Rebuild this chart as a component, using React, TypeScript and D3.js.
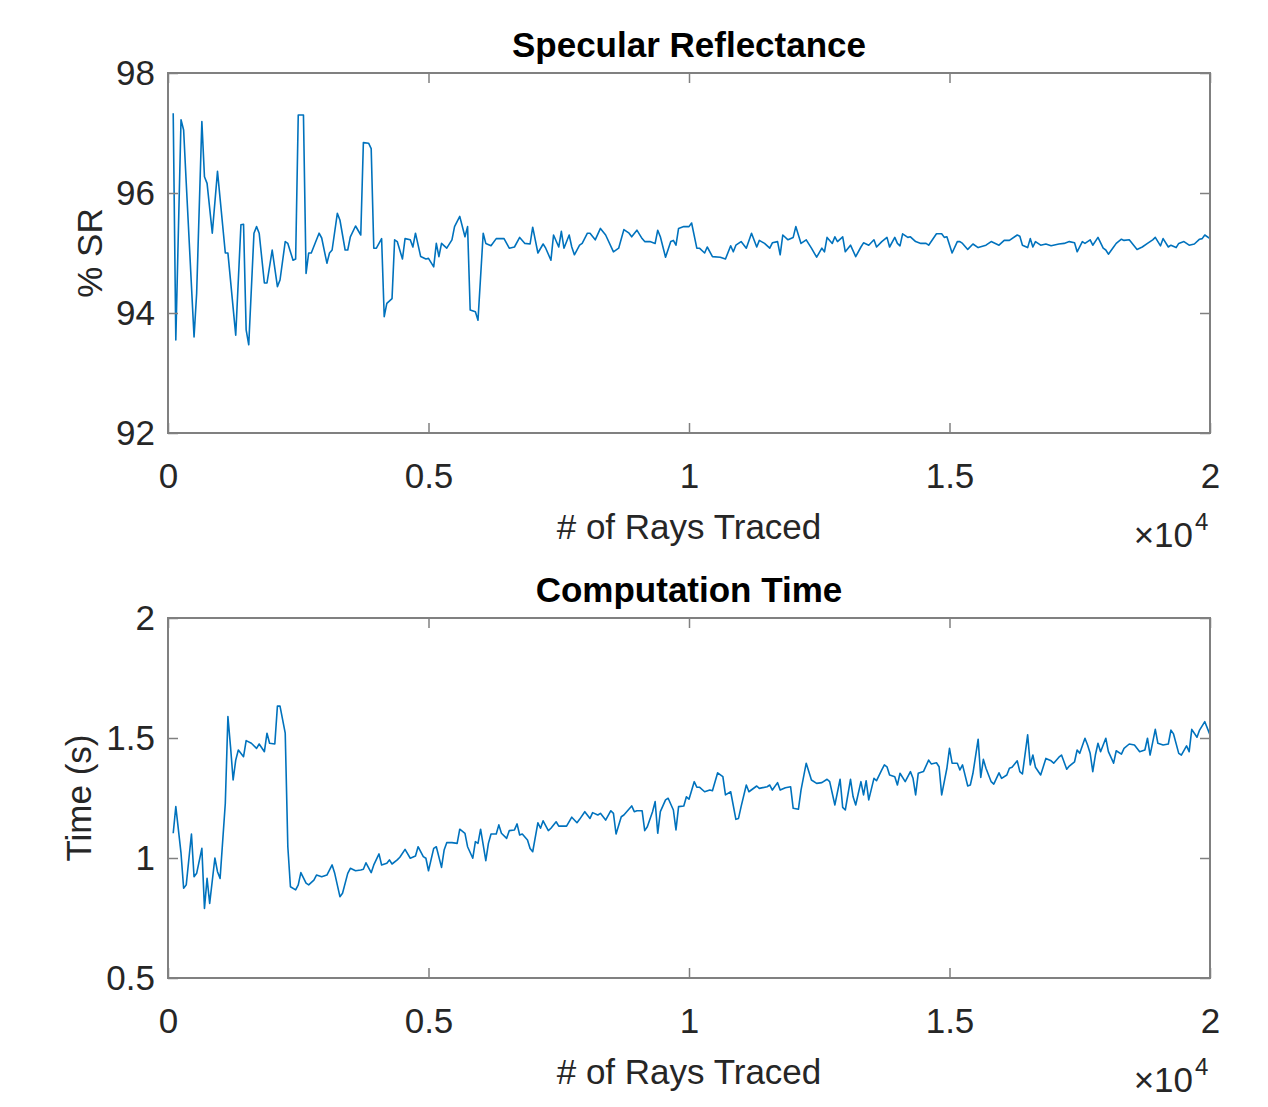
import React, { useEffect, useRef } from 'react';
import * as d3 from 'd3';

const srRays = [100, 150, 250, 300, 350, 500, 550, 650, 700, 750, 850, 950, 1100, 1150, 1300, 1400, 1450, 1500, 1550, 1650, 1700, 1750, 1850, 1900, 2000, 2100, 2150, 2250, 2300, 2400, 2450, 2500, 2600, 2650, 2700, 2750, 2850, 2900, 2950, 3050, 3100, 3150, 3250, 3300, 3400, 3450, 3500, 3600, 3700, 3750, 3850, 3900, 3950, 4000, 4100, 4150, 4200, 4300, 4350, 4400, 4500, 4550, 4650, 4700, 4750, 4850, 4950, 5000, 5100, 5150, 5200, 5250, 5350, 5450, 5500, 5600, 5700, 5750, 5800, 5900, 5950, 6050, 6100, 6200, 6300, 6450, 6550, 6650, 6750, 6850, 6950, 7000, 7100, 7200, 7250, 7350, 7400, 7500, 7550, 7600, 7700, 7750, 7800, 7900, 7950, 8050, 8100, 8200, 8300, 8400, 8550, 8650, 8750, 8850, 8900, 9000, 9100, 9150, 9250, 9350, 9400, 9450, 9550, 9650, 9700, 9750, 9800, 9900, 10000, 10050, 10150, 10200, 10300, 10350, 10450, 10600, 10700, 10800, 10850, 10900, 11000, 11100, 11200, 11300, 11350, 11450, 11550, 11600, 11700, 11750, 11800, 11900, 12000, 12050, 12150, 12250, 12350, 12450, 12550, 12600, 12650, 12750, 12800, 12850, 12950, 13000, 13100, 13200, 13300, 13350, 13450, 13550, 13600, 13700, 13800, 13850, 13950, 14000, 14050, 14100, 14200, 14250, 14350, 14450, 14550, 14600, 14750, 14850, 14900, 14950, 15050, 15150, 15200, 15250, 15350, 15450, 15550, 15700, 15800, 15900, 15950, 16050, 16150, 16300, 16350, 16400, 16500, 16550, 16600, 16650, 16750, 16850, 16950, 17100, 17200, 17300, 17400, 17450, 17550, 17600, 17700, 17750, 17850, 17950, 18000, 18050, 18150, 18200, 18300, 18350, 18450, 18600, 18700, 18800, 18900, 18950, 19050, 19100, 19200, 19250, 19350, 19400, 19500, 19600, 19700, 19800, 19850, 19900, 20000];
const srValues = [97.33, 93.55, 97.22, 97.05, 96.17, 93.6, 94.33, 97.19, 96.27, 96.16, 95.33, 96.36, 95.0, 95.0, 93.63, 95.47, 95.48, 93.72, 93.47, 95.33, 95.44, 95.33, 94.5, 94.5, 95.05, 94.44, 94.55, 95.19, 95.16, 94.88, 94.9, 97.3, 97.3, 94.66, 95.0, 95.0, 95.22, 95.33, 95.25, 94.83, 95.0, 95.05, 95.66, 95.55, 95.05, 95.05, 95.27, 95.45, 95.3, 96.84, 96.83, 96.74, 95.08, 95.08, 95.24, 93.94, 94.16, 94.24, 95.22, 95.19, 94.9, 95.24, 95.22, 95.1, 95.33, 94.94, 94.9, 94.91, 94.77, 95.16, 94.94, 95.16, 95.08, 95.22, 95.44, 95.61, 95.27, 95.44, 94.05, 94.02, 93.88, 95.33, 95.16, 95.12, 95.24, 95.24, 95.08, 95.1, 95.26, 95.16, 95.15, 95.43, 95.0, 95.15, 95.08, 94.88, 95.3, 95.1, 95.36, 95.08, 95.3, 95.1, 94.97, 95.13, 95.16, 95.33, 95.33, 95.22, 95.41, 95.3, 95.02, 95.08, 95.39, 95.33, 95.27, 95.38, 95.24, 95.19, 95.19, 95.16, 95.38, 95.27, 94.93, 95.19, 95.21, 95.13, 95.41, 95.44, 95.44, 95.5, 95.08, 95.08, 95.0, 95.1, 94.94, 94.93, 94.9, 95.12, 95.02, 95.13, 95.19, 95.08, 95.33, 95.1, 95.21, 95.16, 95.08, 95.17, 95.19, 94.97, 95.3, 95.22, 95.26, 95.44, 95.16, 95.22, 95.08, 94.93, 95.08, 95.02, 95.26, 95.16, 95.27, 95.19, 95.27, 95.02, 95.13, 94.94, 95.1, 95.17, 95.13, 95.22, 95.1, 95.19, 95.26, 95.1, 95.26, 95.16, 95.12, 95.32, 95.26, 95.27, 95.19, 95.16, 95.16, 95.13, 95.32, 95.32, 95.26, 95.27, 95.0, 95.19, 95.19, 95.16, 95.06, 95.15, 95.09, 95.13, 95.19, 95.15, 95.13, 95.21, 95.21, 95.3, 95.28, 95.13, 95.09, 95.24, 95.1, 95.19, 95.13, 95.15, 95.12, 95.15, 95.16, 95.19, 95.17, 95.02, 95.19, 95.16, 95.22, 95.13, 95.26, 95.08, 95.05, 94.98, 95.1, 95.16, 95.23, 95.21, 95.22, 95.06, 95.1, 95.16, 95.22, 95.26, 95.12, 95.24, 95.1, 95.13, 95.09, 95.16, 95.19, 95.13, 95.15, 95.23, 95.24, 95.3, 95.24];

const timeRays = [100, 150, 250, 300, 350, 450, 500, 550, 650, 700, 750, 800, 900, 950, 1000, 1100, 1150, 1200, 1250, 1300, 1350, 1450, 1500, 1600, 1700, 1750, 1850, 1900, 1950, 2050, 2100, 2150, 2250, 2300, 2350, 2450, 2500, 2550, 2650, 2700, 2800, 2850, 2950, 3050, 3150, 3200, 3300, 3350, 3450, 3500, 3600, 3700, 3750, 3800, 3900, 3950, 4050, 4100, 4200, 4250, 4300, 4400, 4450, 4550, 4650, 4750, 4800, 4900, 4950, 5000, 5100, 5150, 5250, 5300, 5350, 5450, 5550, 5600, 5700, 5750, 5850, 5900, 5950, 6000, 6100, 6150, 6200, 6300, 6350, 6400, 6500, 6550, 6650, 6700, 6750, 6800, 6900, 6950, 7000, 7100, 7150, 7200, 7300, 7350, 7450, 7500, 7600, 7650, 7750, 7850, 7900, 8000, 8100, 8150, 8250, 8300, 8400, 8500, 8550, 8600, 8700, 8750, 8900, 8950, 9000, 9100, 9150, 9200, 9300, 9350, 9400, 9450, 9550, 9600, 9700, 9750, 9800, 9900, 9950, 10000, 10100, 10150, 10200, 10300, 10400, 10450, 10550, 10650, 10700, 10800, 10900, 10950, 11000, 11100, 11150, 11300, 11350, 11500, 11550, 11600, 11700, 11750, 11850, 11950, 12000, 12100, 12150, 12250, 12350, 12450, 12550, 12650, 12700, 12800, 12900, 12950, 13000, 13100, 13150, 13200, 13300, 13350, 13400, 13450, 13550, 13600, 13700, 13750, 13800, 13850, 13950, 14000, 14050, 14150, 14250, 14300, 14350, 14400, 14500, 14600, 14650, 14750, 14800, 14850, 14950, 15000, 15050, 15150, 15200, 15250, 15350, 15400, 15450, 15550, 15600, 15650, 15700, 15800, 15850, 15950, 16000, 16100, 16150, 16200, 16300, 16350, 16400, 16500, 16550, 16600, 16650, 16750, 16800, 16850, 16950, 17000, 17100, 17150, 17250, 17300, 17400, 17450, 17500, 17600, 17650, 17700, 17750, 17800, 17850, 17900, 18000, 18050, 18150, 18200, 18300, 18350, 18450, 18550, 18650, 18750, 18800, 18850, 18950, 19000, 19100, 19200, 19250, 19300, 19400, 19450, 19550, 19600, 19650, 19750, 19800, 19900, 20000];
const timeValues = [1.103, 1.214, 1.02, 0.874, 0.888, 1.1, 0.922, 0.936, 1.04, 0.79, 0.915, 0.811, 1.0, 0.943, 0.915, 1.228, 1.589, 1.464, 1.325, 1.408, 1.45, 1.422, 1.489, 1.478, 1.457, 1.475, 1.443, 1.52, 1.478, 1.475, 1.633, 1.633, 1.52, 1.047, 0.88, 0.867, 0.888, 0.939, 0.895, 0.888, 0.908, 0.929, 0.922, 0.929, 0.971, 0.936, 0.839, 0.853, 0.936, 0.957, 0.947, 0.95, 0.953, 0.98, 0.939, 0.971, 1.017, 0.971, 0.978, 0.992, 0.975, 0.992, 1.003, 1.036, 0.999, 1.008, 1.047, 1.006, 0.999, 0.947, 1.04, 1.047, 0.961, 1.033, 1.064, 1.064, 1.061, 1.12, 1.103, 1.047, 0.999, 1.068, 1.061, 1.12, 0.989, 1.061, 1.1, 1.1, 1.138, 1.103, 1.082, 1.114, 1.117, 1.142, 1.096, 1.1, 1.075, 1.04, 1.026, 1.147, 1.124, 1.155, 1.114, 1.124, 1.151, 1.133, 1.133, 1.133, 1.17, 1.147, 1.161, 1.193, 1.165, 1.189, 1.179, 1.186, 1.158, 1.197, 1.186, 1.1, 1.172, 1.179, 1.217, 1.193, 1.197, 1.197, 1.114, 1.13, 1.193, 1.235, 1.103, 1.193, 1.242, 1.249, 1.2, 1.117, 1.214, 1.217, 1.255, 1.245, 1.318, 1.295, 1.295, 1.276, 1.283, 1.28, 1.355, 1.339, 1.263, 1.276, 1.161, 1.165, 1.214, 1.304, 1.276, 1.3, 1.29, 1.297, 1.304, 1.283, 1.314, 1.283, 1.293, 1.297, 1.207, 1.203, 1.283, 1.395, 1.325, 1.311, 1.314, 1.328, 1.318, 1.221, 1.328, 1.211, 1.2, 1.328, 1.255, 1.221, 1.318, 1.263, 1.322, 1.242, 1.332, 1.322, 1.367, 1.388, 1.38, 1.346, 1.339, 1.304, 1.353, 1.318, 1.36, 1.332, 1.263, 1.353, 1.36, 1.408, 1.392, 1.397, 1.38, 1.263, 1.374, 1.457, 1.395, 1.395, 1.367, 1.388, 1.3, 1.304, 1.353, 1.495, 1.336, 1.411, 1.374, 1.318, 1.308, 1.355, 1.332, 1.346, 1.374, 1.378, 1.405, 1.36, 1.35, 1.513, 1.388, 1.429, 1.378, 1.346, 1.38, 1.415, 1.405, 1.395, 1.42, 1.429, 1.37, 1.383, 1.401, 1.45, 1.436, 1.499, 1.471, 1.436, 1.36, 1.429, 1.478, 1.443, 1.499, 1.443, 1.395, 1.447, 1.433, 1.457, 1.475, 1.471, 1.443, 1.45, 1.499, 1.429, 1.536, 1.478, 1.471, 1.475, 1.533, 1.517, 1.436, 1.429, 1.467, 1.443, 1.536, 1.503, 1.533, 1.568, 1.513];

const xTicks = [0, 5000, 10000, 15000, 20000];
const xTickLabels = ['0', '0.5', '1', '1.5', '2'];
const srTicks = [92, 94, 96, 98];
const timeTicks = [0.5, 1, 1.5, 2];

const FONT = '"Liberation Sans", Arial, Helvetica, sans-serif';
const AXIS = '#808080';
const TEXT = '#262626';
const LINE = '#0072bd';

const App = () => {
  const svgRef = useRef();

  useEffect(() => {
    const svg = d3.select(svgRef.current);
    svg.selectAll('*').remove();

    const left = 168;
    const right = 1210;

    const panels = [
      { top: 73, bottom: 433, title: 'Specular Reflectance', ylabel: '% SR', rays: srRays, values: srValues, domain: [92, 98], ticks: srTicks, fmt: d3.format('d'), ylabelX: 102 },
      { top: 618, bottom: 978, title: 'Computation Time', ylabel: 'Time (s)', rays: timeRays, values: timeValues, domain: [0.5, 2], ticks: timeTicks, fmt: (d) => String(d), ylabelX: 91 },
    ];

    const x = d3.scaleLinear().domain([0, 20000]).range([left, right]);

    panels.forEach((p) => {
      const y = d3.scaleLinear().domain(p.domain).range([p.bottom, p.top]);
      const g = svg.append('g');

      // data line
      const line = d3.line().x((d) => x(d[0])).y((d) => y(d[1]));
      g.append('path')
        .datum(p.rays.map((r, i) => [r, p.values[i]]))
        .attr('d', line)
        .attr('fill', 'none')
        .attr('stroke', LINE)
        .attr('stroke-width', 1.6)
        .attr('stroke-linejoin', 'round');

      // inward ticks on every side
      const axes = [
        { ax: d3.axisLeft(y).tickValues(p.ticks).tickFormat(p.fmt), t: `translate(${left},0)` },
        { ax: d3.axisRight(y).tickValues(p.ticks).tickFormat(() => ''), t: `translate(${right},0)` },
        { ax: d3.axisBottom(x).tickValues(xTicks).tickFormat((d, i) => xTickLabels[i]), t: `translate(0,${p.bottom})` },
        { ax: d3.axisTop(x).tickValues(xTicks).tickFormat(() => ''), t: `translate(0,${p.top})` },
      ];
      axes.forEach((a, k) => {
        const ag = g.append('g')
          .attr('transform', a.t)
          .call(a.ax.tickSizeInner(-10).tickSizeOuter(0).tickPadding(k === 0 ? 13 : 30));
        ag.select('.domain').remove();
        ag.selectAll('line').attr('stroke', AXIS).attr('stroke-width', 1.5);
        ag.selectAll('text')
          .attr('fill', TEXT)
          .style('font-family', FONT)
          .style('font-size', '35px');
      });

      g.append('rect')
        .attr('x', left)
        .attr('y', p.top)
        .attr('width', right - left)
        .attr('height', p.bottom - p.top)
        .attr('fill', 'none')
        .attr('stroke', AXIS)
        .attr('stroke-width', 2);

      g.append('text')
        .attr('x', (left + right) / 2)
        .attr('y', p.top - 16)
        .attr('text-anchor', 'middle')
        .attr('fill', '#000')
        .style('font-family', FONT)
        .style('font-weight', 'bold')
        .style('font-size', '35px')
        .text(p.title);

      g.append('text')
        .attr('x', (left + right) / 2)
        .attr('y', p.bottom + 106)
        .attr('text-anchor', 'middle')
        .attr('fill', TEXT)
        .style('font-family', FONT)
        .style('font-size', '35px')
        .text('# of Rays Traced');

      g.append('text')
        .attr('transform', `translate(${p.ylabelX},${(p.top + p.bottom) / 2}) rotate(-90)`)
        .attr('text-anchor', 'middle')
        .attr('fill', TEXT)
        .style('font-family', FONT)
        .style('font-size', '35px')
        .text(p.ylabel);

      g.append('text')
        .attr('x', 1193)
        .attr('y', p.bottom + 114)
        .attr('text-anchor', 'end')
        .attr('fill', TEXT)
        .style('font-family', FONT)
        .style('font-size', '35px')
        .text('×10');

      g.append('text')
        .attr('x', 1195)
        .attr('y', p.bottom + 97)
        .attr('fill', TEXT)
        .style('font-family', FONT)
        .style('font-size', '24px')
        .text('4');
    });
  }, []);

  return (
    <svg ref={svgRef} width={1268} height={1107} style={{ position: 'absolute', left: 0, top: 0, background: '#fff' }}></svg>
  );
};

export default App;
